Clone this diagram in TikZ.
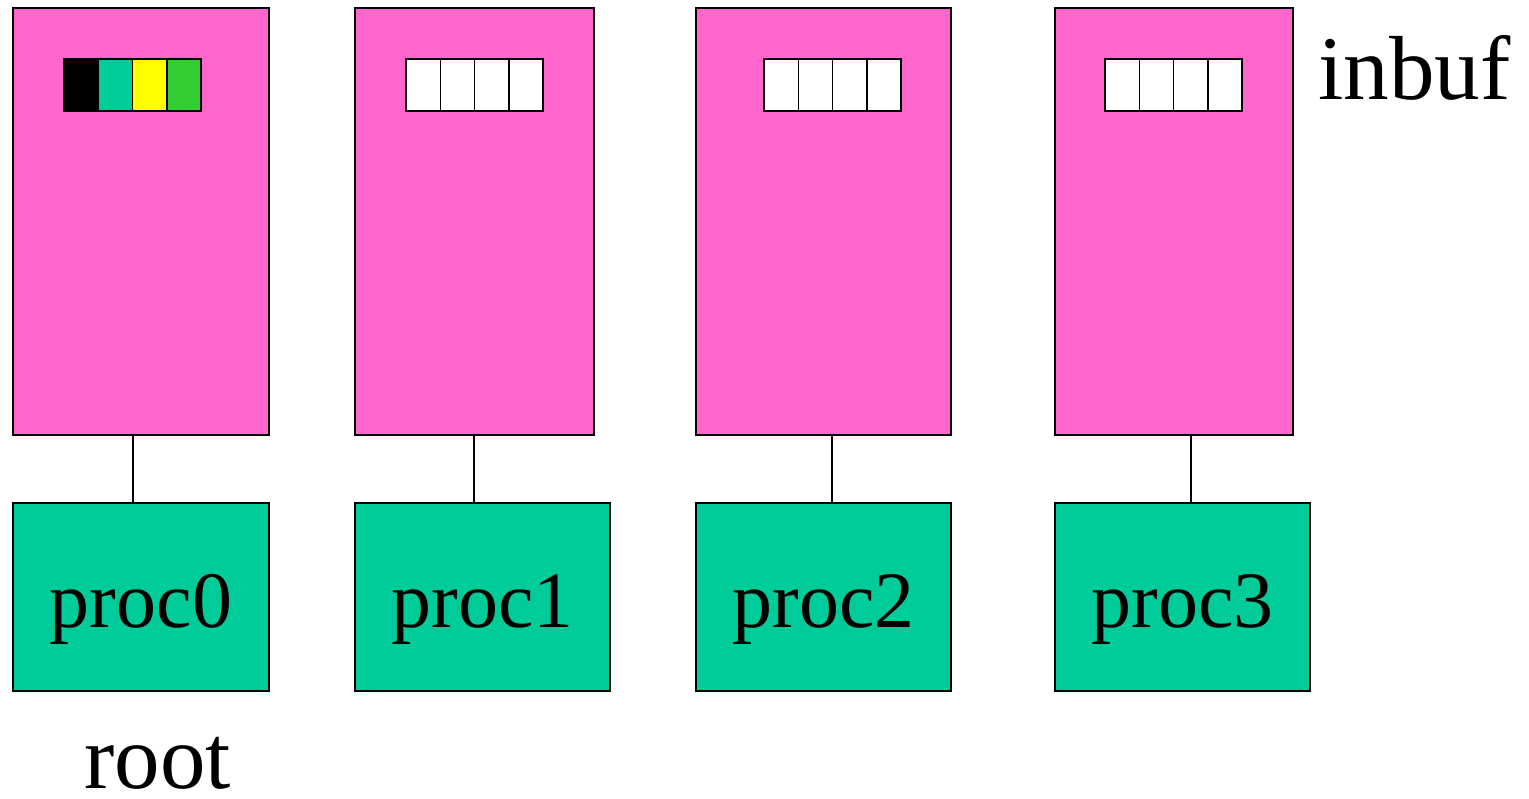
\documentclass[tikz,border=0pt]{standalone}
\usepackage{fontspec}
\setmainfont{Liberation Serif}
\definecolor{mempink}{HTML}{FF66CC}
\definecolor{procgreen}{HTML}{00CC99}
\definecolor{cellyellow}{HTML}{FFFF00}
\definecolor{cellgreen}{HTML}{33CC33}
\tikzset{
  membox/.style={draw=black, line width=1.5pt, fill=mempink, inner sep=0pt, outer sep=0pt},
  procbox/.style={draw=black, line width=1.5pt, fill=procgreen, inner sep=0pt, outer sep=0pt},
  cellbox/.style={draw=black, line width=1.5pt, inner sep=0pt, outer sep=0pt, minimum width=34.25pt, minimum height=52pt},
  conn/.style={draw=black, line width=1.5pt},
  proclabel/.style={anchor=base, inner sep=0pt, font=\fontsize{80}{80}\selectfont},
  biglabel/.style={anchor=base west, inner sep=0pt, text depth=0pt, font=\fontsize{91}{91}\selectfont}
}
\begin{document}
\begin{tikzpicture}[x=1pt, y=-1pt]
\useasboundingbox (0,0) rectangle (1529,799);
\foreach \i/\pl/\pr/\gr/\bl/\lx in {0/13/269/269/64/133, 1/355/594/610/406/474, 2/696/951/951/764/832, 3/1055/1293/1310/1105/1191} {
  \pgfmathsetmacro{\mw}{\pr-\pl}
  \pgfmathsetmacro{\mc}{(\pr+\pl)/2}
  \pgfmathsetmacro{\gw}{\gr-\pl}
  \pgfmathsetmacro{\gc}{(\gr+\pl)/2}
  \node[membox, minimum width=\mw pt, minimum height=427pt] (mem\i) at (\mc,221.5) {};
  \node[procbox, minimum width=\gw pt, minimum height=188pt] (proc\i) at (\gc,597) {};
  \node[proclabel] (plabel\i) at (\gc,627) {proc\i};
  \coordinate (c\i) at (\lx,470);
  \draw[conn] (mem\i.south -| c\i) -- (proc\i.north -| c\i);
  \foreach \j in {0,1,2,3} {
    \pgfmathsetmacro{\cx}{\bl+17.125+34.25*\j}
    \node[cellbox, fill=white] (buf\i-\j) at (\cx,85) {};
  }
}
\node[cellbox, fill=black] at (buf0-0) {};
\node[cellbox, fill=procgreen] at (buf0-1) {};
\node[cellbox, fill=cellyellow] at (buf0-2) {};
\node[cellbox, fill=cellgreen] at (buf0-3) {};
\node[biglabel] (inbuf) at (1318,100) {inbuf};
\node[biglabel] (root) at (84,788) {root};
\end{tikzpicture}
\end{document}
